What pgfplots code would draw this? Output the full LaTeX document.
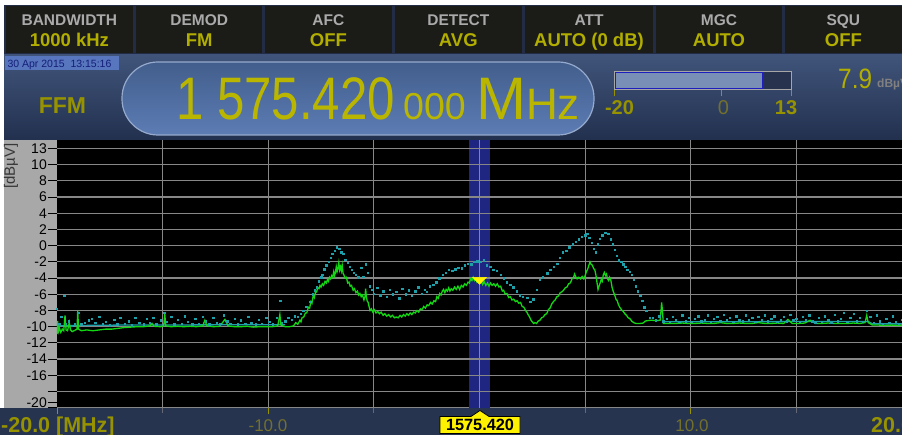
\documentclass[border=0pt]{standalone}
\usepackage{pgfplots}
\pgfplotsset{compat=1.18}
\usepackage{fontspec}
\setmainfont{Liberation Sans}
\usepackage{graphicx}
\newcommand\fs[1]{\fontsize{#1}{#1}\selectfont}
\definecolor{hdrbg}{RGB}{34,44,68}
\definecolor{btn}{RGB}{27,28,24}
\definecolor{ttl}{RGB}{170,170,170}
\definecolor{olive}{RGB}{178,174,0}
\definecolor{oliveD}{RGB}{150,146,0}
\definecolor{oliveL}{RGB}{115,112,45}
\definecolor{panelT}{RGB}{64,84,122}
\definecolor{panelB}{RGB}{34,48,78}
\definecolor{pillT}{RGB}{66,94,140}
\definecolor{pillB}{RGB}{92,124,180}
\definecolor{pillE}{RGB}{150,170,205}
\definecolor{datebg}{RGB}{88,118,190}
\definecolor{datetx}{RGB}{20,30,120}
\definecolor{gridc}{RGB}{135,135,135}
\definecolor{band}{RGB}{30,38,130}
\definecolor{trace}{RGB}{20,215,20}
\definecolor{maxh}{RGB}{30,160,170}
\definecolor{yax}{RGB}{168,168,168}
\definecolor{strip}{RGB}{38,52,80}
\definecolor{barfill}{RGB}{122,143,182}
\definecolor{bardark}{RGB}{38,50,78}
\definecolor{barblue}{RGB}{30,30,190}
\definecolor{bigc}{RGB}{186,182,0}
\definecolor{tickgray}{RGB}{100,105,115}

\pgfplotstableread{
x y
-20.00 -10.9
-19.97 -9.3
-19.93 -10.6
-19.88 -10.2
-19.82 -10.7
-19.75 -10.3
-19.68 -10.5
-19.62 -8.6
-19.57 -10.4
-19.50 -10.5
-19.42 -9.5
-19.36 -10.4
-19.28 -10.6
-19.20 -10.5
-19.12 -10.4
-19.05 -10.3
-19.02 -8.0
-18.98 -10.3
-18.85 -10.5
-18.60 -10.4
-18.30 -10.5
-18.00 -10.4
-17.70 -10.3
-17.40 -10.3
-17.10 -10.2
-16.80 -10.1
-16.50 -10.05
-16.20 -10.0
-15.90 -10.0
-15.60 -9.9
-15.50 -9.6
-15.40 -9.95
-15.10 -10.0
-14.95 -9.9
-14.90 -8.4
-14.85 -9.9
-14.60 -10.0
-14.30 -9.95
-14.00 -10.0
-13.70 -9.95
-13.40 -10.0
-13.10 -9.9
-13.00 -9.2
-12.90 -9.9
-12.60 -10.0
-12.30 -9.95
-12.05 -9.1
-11.90 -9.9
-11.60 -10.0
-11.30 -10.0
-11.00 -9.95
-10.70 -10.05
-10.40 -10.0
-10.10 -10.0
-9.80 -10.0
-9.55 -9.9
-9.45 -8.5
-9.40 -9.8
-9.20 -10.0
-9.00 -10.0
-8.80 -9.9
-8.70 -9.5
-8.60 -9.7
-8.50 -9.2
-8.45 -9.4
-8.40 -8.9
-8.32 -8.8
-8.24 -8.3
-8.18 -8.3
-8.10 -7.6
-8.04 -7.7
-7.98 -6.9
-7.93 -7.1
-7.87 -6.1
-7.82 -6.4
-7.77 -5.8
-7.71 -5.7
-7.66 -5.2
-7.60 -5.3
-7.55 -4.9
-7.50 -5.1
-7.44 -4.7
-7.38 -4.9
-7.31 -4.4
-7.25 -4.6
-7.20 -4.2
-7.15 -4.4
-7.10 -3.9
-7.05 -4.1
-7.00 -3.7
-6.95 -3.9
-6.90 -3.2
-6.86 -3.7
-6.82 -3.3
-6.78 -2.6
-6.74 -3.2
-6.70 -2.8
-6.66 -2.1
-6.62 -3.0
-6.58 -2.6
-6.54 -3.1
-6.50 -2.4
-6.46 -3.4
-6.42 -3.6
-6.36 -4.0
-6.30 -3.9
-6.24 -4.6
-6.18 -4.5
-6.12 -5.0
-6.06 -4.9
-5.98 -5.5
-5.92 -5.3
-5.85 -5.8
-5.78 -5.6
-5.72 -6.1
-5.66 -5.9
-5.60 -6.3
-5.54 -6.1
-5.47 -6.7
-5.42 -6.3
-5.39 -5.3
-5.36 -6.2
-5.32 -6.8
-5.27 -7.0
-5.22 -7.6
-5.18 -8.0
-5.12 -7.8
-5.05 -8.2
-4.98 -7.9
-4.90 -8.3
-4.82 -8.1
-4.74 -8.4
-4.66 -8.2
-4.56 -8.6
-4.48 -8.4
-4.39 -8.7
-4.30 -8.5
-4.20 -8.8
-4.12 -8.6
-4.02 -8.9
-3.94 -8.8
-3.85 -8.9
-3.76 -8.6
-3.68 -8.8
-3.60 -8.5
-3.52 -8.7
-3.44 -8.4
-3.36 -8.6
-3.28 -8.3
-3.20 -8.5
-3.12 -8.2
-3.04 -8.3
-2.96 -8.0
-2.88 -8.2
-2.80 -7.8
-2.72 -7.9
-2.64 -7.5
-2.56 -7.7
-2.48 -7.3
-2.40 -7.4
-2.32 -7.0
-2.24 -7.2
-2.16 -6.8
-2.08 -6.9
-2.02 -6.3
-1.95 -6.5
-1.88 -5.9
-1.82 -6.1
-1.76 -5.6
-1.70 -5.4
-1.64 -5.8
-1.58 -5.4
-1.52 -5.6
-1.46 -5.2
-1.40 -5.6
-1.34 -5.3
-1.26 -5.5
-1.18 -5.1
-1.10 -5.4
-1.02 -5.0
-0.94 -5.4
-0.86 -4.9
-0.78 -5.1
-0.70 -4.7
-0.62 -4.9
-0.54 -4.5
-0.48 -4.6
-0.42 -4.1
-0.36 -4.3
-0.30 -3.9
-0.24 -4.3
-0.18 -4.1
-0.12 -4.5
-0.05 -4.3
0.02 -4.6
0.08 -4.4
0.15 -4.8
0.22 -4.4
0.30 -4.9
0.38 -4.6
0.45 -5.0
0.52 -4.6
0.60 -4.9
0.68 -4.7
0.76 -5.0
0.84 -4.7
0.92 -5.1
1.00 -5.0
1.08 -5.6
1.14 -5.5
1.22 -6.0
1.30 -5.9
1.38 -6.4
1.46 -6.3
1.54 -6.7
1.62 -6.6
1.70 -6.9
1.78 -6.8
1.86 -7.1
1.94 -7.0
2.02 -7.5
2.10 -7.6
2.18 -8.0
2.24 -8.2
2.30 -8.5
2.37 -8.8
2.44 -9.2
2.50 -9.4
2.56 -9.6
2.63 -9.5
2.70 -9.6
2.78 -9.3
2.86 -9.2
2.94 -8.9
3.02 -8.8
3.10 -8.5
3.18 -8.4
3.26 -7.9
3.34 -7.7
3.42 -7.2
3.50 -6.9
3.58 -6.7
3.66 -6.3
3.74 -6.2
3.82 -5.8
3.90 -5.7
3.98 -5.5
4.06 -5.2
4.14 -5.1
4.22 -4.7
4.30 -4.6
4.38 -4.1
4.44 -4.0
4.50 -3.5
4.55 -3.8
4.62 -4.1
4.70 -3.9
4.78 -4.1
4.86 -3.8
4.94 -4.1
5.00 -3.7
5.06 -3.2
5.12 -2.9
5.18 -2.4
5.23 -2.0
5.28 -2.3
5.34 -2.4
5.40 -2.8
5.46 -3.0
5.51 -3.6
5.56 -4.5
5.61 -5.4
5.66 -5.0
5.71 -4.6
5.76 -4.2
5.81 -4.4
5.86 -3.6
5.91 -3.3
5.96 -3.7
6.01 -3.5
6.06 -4.1
6.11 -4.3
6.16 -3.9
6.22 -4.3
6.28 -5.2
6.34 -5.7
6.40 -6.1
6.46 -6.6
6.52 -6.8
6.58 -7.3
6.64 -7.6
6.72 -7.9
6.80 -8.1
6.88 -8.4
6.96 -8.6
7.04 -8.9
7.12 -9.0
7.20 -9.3
7.30 -9.5
7.40 -9.6
7.60 -9.6
7.75 -9.55
7.85 -9.3
8.10 -9.2
8.39 -9.25
8.55 -9.2
8.60 -7.8
8.62 -7.0
8.66 -8.0
8.70 -9.6
9.00 -9.6
9.30 -9.6
9.60 -9.55
9.90 -9.6
10.20 -9.6
10.50 -9.55
10.80 -9.6
11.10 -9.6
11.40 -9.5
11.70 -9.6
12.00 -9.6
12.30 -9.55
12.60 -9.6
12.90 -9.6
13.20 -9.5
13.50 -9.6
13.80 -9.6
14.10 -9.55
14.40 -9.6
14.60 -9.1
14.80 -9.6
15.10 -9.6
15.40 -9.55
15.65 -9.2
15.90 -9.6
16.20 -9.6
16.50 -9.55
16.80 -9.6
17.10 -9.6
17.40 -9.6
17.70 -9.55
18.00 -9.6
18.25 -9.5
18.33 -8.6
18.40 -9.5
18.60 -9.8
18.90 -9.8
19.20 -9.85
19.50 -9.8
19.80 -9.85
20.00 -9.8
}\avgtrace

\pgfplotstableread{
x y
-20.0 -7.8
-19.9 -9.6
-19.8 -8.8
-19.65 -6.2
-19.6 -9.7
-19.45 -9.3
-19.3 -9.9
-19.15 -9.6
-19.0 -8.3
-18.85 -9.7
-18.7 -9.5
-18.5 -9.2
-18.35 -9.0
-18.2 -9.5
-18.0 -8.8
-17.85 -9.7
-17.7 -9.4
-17.5 -9.8
-17.3 -9.1
-17.15 -9.7
-17.0 -8.9
-16.8 -9.6
-16.6 -9.3
-16.45 -9.8
-16.3 -8.9
-16.1 -9.5
-15.9 -9.7
-15.75 -9.0
-15.6 -9.5
-15.45 -8.9
-15.3 -9.7
-15.1 -9.2
-14.92 -8.3
-14.8 -9.4
-14.6 -8.8
-14.45 -9.7
-14.3 -9.1
-14.1 -9.6
-13.95 -8.7
-13.8 -9.4
-13.6 -9.7
-13.45 -9.0
-13.3 -9.6
-13.1 -8.8
-12.95 -9.3
-12.8 -9.7
-12.6 -8.9
-12.45 -9.5
-12.3 -9.7
-12.1 -8.6
-11.95 -9.3
-11.8 -9.6
-11.6 -9.0
-11.45 -9.7
-11.3 -9.2
-11.1 -9.6
-10.95 -8.8
-10.8 -9.5
-10.6 -9.7
-10.45 -9.1
-10.3 -9.6
-10.1 -8.9
-9.95 -9.4
-9.8 -9.7
-9.6 -8.9
-9.44 -6.8
-9.35 -9.5
-9.2 -9.3
-9.05 -8.9
-8.9 -9.1
-8.75 -8.7
-8.6 -8.8
-8.45 -8.4
-8.35 -8.0
-8.2 -7.5
-8.05 -6.9
-7.9 -6.0
-7.8 -5.5
-7.7 -5.1
-7.6 -4.4
-7.5 -3.9
-7.45 -3.6
-7.35 -2.9
-7.25 -2.4
-7.15 -2.0
-7.05 -1.5
-6.97 -1.0
-6.85 -0.6
-6.75 -0.2
-6.65 -0.4
-6.55 -0.8
-6.45 -1.0
-6.35 -1.7
-6.25 -2.1
-6.15 -2.6
-6.05 -3.0
-5.95 -3.3
-5.85 -3.6
-5.75 -3.9
-5.6 -2.7
-5.5 -3.8
-5.4 -2.3
-5.3 -3.3
-5.2 -5.0
-5.1 -5.4
-5.0 -5.9
-4.85 -5.2
-4.7 -6.1
-4.55 -5.6
-4.4 -6.3
-4.25 -5.4
-4.1 -6.0
-3.95 -5.7
-3.8 -6.5
-3.65 -5.3
-3.5 -6.0
-3.35 -5.5
-3.2 -6.2
-3.05 -5.6
-2.9 -5.1
-2.75 -5.9
-2.6 -5.4
-2.5 -5.7
-2.35 -5.0
-2.2 -4.8
-2.05 -4.5
-1.9 -4.0
-1.75 -3.6
-1.6 -3.3
-1.45 -3.0
-1.3 -3.1
-1.15 -2.9
-1.0 -2.7
-0.85 -2.8
-0.7 -2.4
-0.55 -2.2
-0.4 -2.3
-0.25 -2.0
-0.1 -1.9
0.05 -2.0
0.2 -1.8
0.34 -2.4
0.5 -2.6
0.65 -3.0
0.8 -3.1
1.0 -3.6
1.15 -4.0
1.3 -4.5
1.45 -4.8
1.6 -5.1
1.75 -5.6
1.9 -6.1
2.05 -6.3
2.25 -6.4
2.4 -6.9
2.55 -6.6
2.7 -5.4
2.86 -4.2
3.0 -3.9
3.2 -3.4
3.35 -3.0
3.5 -2.6
3.67 -2.2
3.8 -1.5
3.95 -0.8
4.1 -0.6
4.25 -0.2
4.4 0.2
4.55 0.5
4.7 0.8
4.85 1.1
5.0 1.3
5.1 1.5
5.2 1.0
5.3 0.4
5.4 -0.4
5.5 -0.8
5.6 0.2
5.7 0.9
5.8 1.3
5.95 1.6
6.1 1.5
6.2 0.8
6.3 0.2
6.4 -0.5
6.5 -1.2
6.6 -1.8
6.7 -2.0
6.8 -2.3
6.9 -2.6
7.0 -3.0
7.1 -3.2
7.2 -3.6
7.3 -4.2
7.4 -5.0
7.5 -5.6
7.6 -6.2
7.7 -6.8
7.8 -7.6
7.9 -8.0
8.05 -8.9
8.2 -8.9
8.35 -9.2
8.5 -8.7
8.7 -9.3
8.85 -9.0
9.0 -9.4
9.15 -8.8
9.3 -9.2
9.45 -9.4
9.6 -8.6
9.75 -9.3
9.9 -8.9
10.05 -9.4
10.2 -9.0
10.35 -8.7
10.5 -9.3
10.65 -9.1
10.8 -8.6
10.95 -9.4
11.1 -9.0
11.25 -8.8
11.4 -9.3
11.55 -8.5
11.7 -9.2
11.85 -8.9
12.0 -9.4
12.15 -8.7
12.3 -9.1
12.45 -9.3
12.6 -8.6
12.75 -9.2
12.9 -8.9
13.05 -9.4
13.2 -8.8
13.35 -9.2
13.5 -8.6
13.65 -9.3
13.8 -9.0
13.95 -8.7
14.1 -9.4
14.25 -9.1
14.4 -8.8
14.55 -9.3
14.7 -8.5
14.85 -9.2
15.0 -9.0
15.15 -9.4
15.3 -8.8
15.45 -9.2
15.6 -8.6
15.75 -9.3
15.9 -9.5
16.05 -8.9
16.2 -9.4
16.35 -8.7
16.5 -9.2
16.65 -9.5
16.8 -8.5
16.95 -9.3
17.1 -9.0
17.25 -8.3
17.4 -9.4
17.55 -8.9
17.7 -8.4
17.85 -9.3
18.0 -8.9
18.15 -9.4
18.33 -8.0
18.5 -8.8
18.65 -9.5
18.8 -8.6
18.95 -9.3
19.1 -9.6
19.25 -9.0
19.4 -9.5
19.55 -8.7
19.7 -9.4
19.85 -9.6
20.0 -9.1
}\maxhold

\begin{document}
\begin{tikzpicture}[x=1pt,y=1pt]
\path[use as bounding box] (0,0) rectangle (902,-435);
\fill[white] (0,0) rectangle (902,-435);
% header
\fill[hdrbg] (4,-5) rectangle (902,-55);
\foreach \a/\b/\t/\v in {4/134.7/BANDWIDTH/1000 kHz, 134.7/263.7/DEMOD/FM, 263.7/393/AFC/OFF, 393/523.7/DETECT/AVG, 523.7/654.3/ATT/AUTO (0 dB), 654.3/783.7/MGC/AUTO, 783.7/903/SQU/OFF}{
  \fill[btn] (\a+1.5,-6.5) rectangle (\b-1.5,-53.5);
  \node[anchor=base, inner sep=0, font=\fs{15.5}\bfseries, text=ttl] at ({(\a+\b)/2},-26) {\t};
  \node[anchor=base, inner sep=0, font=\fs{18.5}\bfseries, text=olive] at ({(\a+\b)/2},-46.7) {\v};
}
% blue panel
\shade[top color=panelT, bottom color=panelB] (4,-55) rectangle (902,-140.4);
\fill[datebg] (5,-56) rectangle (119,-70.5);
\node[anchor=base west, inner sep=0, font=\fs{10.5}, text=datetx] at (7.3,-67.5) {30 Apr 2015\ \ 13:15:16};
\node[anchor=base, inner sep=0, font=\fs{23}\bfseries, text=oliveD] at (62.5,-113.3) {FFM};
\shade[top color=pillT, bottom color=pillB, rounded corners=36] (122,-62) rectangle (594,-135);
\draw[pillE, line width=1.2, rounded corners=36] (122,-62) rectangle (594,-135);
\node[anchor=base west, inner sep=0, font=\fs{60}, text=bigc] at (176,-120) {\scalebox{0.82}[1]{1 575.420}};
\node[anchor=base west, inner sep=0, font=\fs{37.5}, text=bigc] at (403,-120) {000};
\node[anchor=base west, inner sep=0, font=\fs{60}, text=bigc] at (476,-120) {M};
\node[anchor=base west, inner sep=0, font=\fs{44}, text=bigc] at (526,-120) {Hz};
% level bar
\fill[bardark] (614,-72) rectangle (791,-90);
\draw[gray!70!white, line width=1] (614,-72) rectangle (791,-90);
\fill[barfill] (615,-73) rectangle (762,-89);
\draw[barblue, line width=1] (615,-73) rectangle (762,-89);
\draw[oliveD, line width=1] (614,-90)--(614,-96) (721,-90)--(721,-96) (791,-90)--(791,-96);
\node[anchor=base, inner sep=0, font=\fs{20}\bfseries, text=oliveD] at (619.5,-115) {-20};
\node[anchor=base, inner sep=0, font=\fs{20}, text=oliveL] at (723.5,-115) {0};
\node[anchor=base, inner sep=0, font=\fs{20}\bfseries, text=oliveD] at (786,-115) {13};
\node[anchor=base west, inner sep=0, font=\fs{28}, text=olive] at (838,-88.3) {\scalebox{0.87}[1]{7.9}};
\node[anchor=base west, inner sep=0, font=\fs{12}\bfseries, text=gray] at (877,-88) {dBµV};
% y axis panel
\fill[yax] (4,-140.4) rectangle (57,-407.7);
\node[rotate=90, anchor=east, inner sep=0, font=\fs{15}, text={rgb,255:red,55;green,55;blue,55}] at (11,-143) {[dBµV]};

\begin{axis}[
  at={(57pt,-407.7pt)}, anchor=south west, scale only axis,
  width=845pt, height=267.3pt,
  xmin=-20, xmax=20, ymin=-20, ymax=13,
  axis background/.style={fill=black},
  axis line style={draw=none},
  xtick={-15,-10,...,15}, xmajorticks=false, xmajorgrids=true,
  ytick={-20,-18,...,12},
  yticklabels={{},{},-16,-14,-12,-10,-8,-6,-4,-2,0,2,4,6,8,10,13},
  extra y ticks={-19.4}, extra y tick labels={-20},
  extra y tick style={grid=none},
  ymajorgrids=true, major grid style={draw=gridc, line width=1.2pt},
  tick align=outside, major tick length=9pt,
  ytick style={draw=black, line width=1pt},
  yticklabel style={font=\fs{14}, text=black, inner xsep=1pt},
]
\addplot[fill=band, draw=none] coordinates {(-0.5,-20) (-0.5,13) (0.5,13) (0.5,-20)} -- cycle;
\pgfplotsinvokeforeach{-18,-16,...,12}{
  \addplot[gridc, line width=1.2pt] coordinates {(-0.5,#1) (0.5,#1)};
}
\addplot[gridc, line width=1.2pt] coordinates {(0,-20) (0,13)};
\addplot[maxh, line width=1.3pt] coordinates {(-20,-9.9) (-19,-9.85) (-17,-9.8) (-9.2,-9.75)};
\addplot[maxh, line width=1.3pt] coordinates {(8.7,-9.4) (18.4,-9.35) (18.6,-9.65) (20,-9.65)};
\addplot[only marks, mark=square*, mark size=0.7pt, color=maxh] table {\maxhold};
\addplot[trace, line width=1.3pt] table {\avgtrace};
\addplot[only marks, mark=triangle*, mark size=8pt, mark options={rotate=180, yscale=0.58, fill=yellow, draw=yellow}] coordinates {(0,-4.2)};
\end{axis}

% bottom strip
\fill[strip] (0,-407.7) rectangle (902,-435);
\draw[oliveD, line width=1] (57,-407.7)--(57,-414) (268,-407.7)--(268,-414) (690,-407.7)--(690,-414);
\draw[tickgray, line width=1] (162,-407.7)--(162,-413) (373,-407.7)--(373,-413) (585,-407.7)--(585,-413) (796,-407.7)--(796,-413);
\node[anchor=base west, inner sep=0, font=\fs{21.5}\bfseries, text=oliveD] at (1,-432.5) {-20.0 [MHz]};
\node[anchor=base, inner sep=0, font=\fs{17}, text=oliveL] at (268,-431.7) {-10.0};
\node[anchor=base, inner sep=0, font=\fs{17}, text=oliveL] at (692,-431.7) {10.0};
\node[anchor=base west, inner sep=0, font=\fs{21.5}\bfseries, text=oliveD] at (871,-432.5) {20.0 [MHz]};
\filldraw[fill=yellow, draw=black, line width=0.8] (440,-416.5) -- (471,-416.5) -- (480,-410.5) -- (489,-416.5) -- (520,-416.5) -- (520,-433.5) -- (440,-433.5) -- cycle;
\node[anchor=base, inner sep=0, font=\fs{16.3}\bfseries, text=black] at (480,-430) {1575.420};
\end{tikzpicture}
\end{document}
